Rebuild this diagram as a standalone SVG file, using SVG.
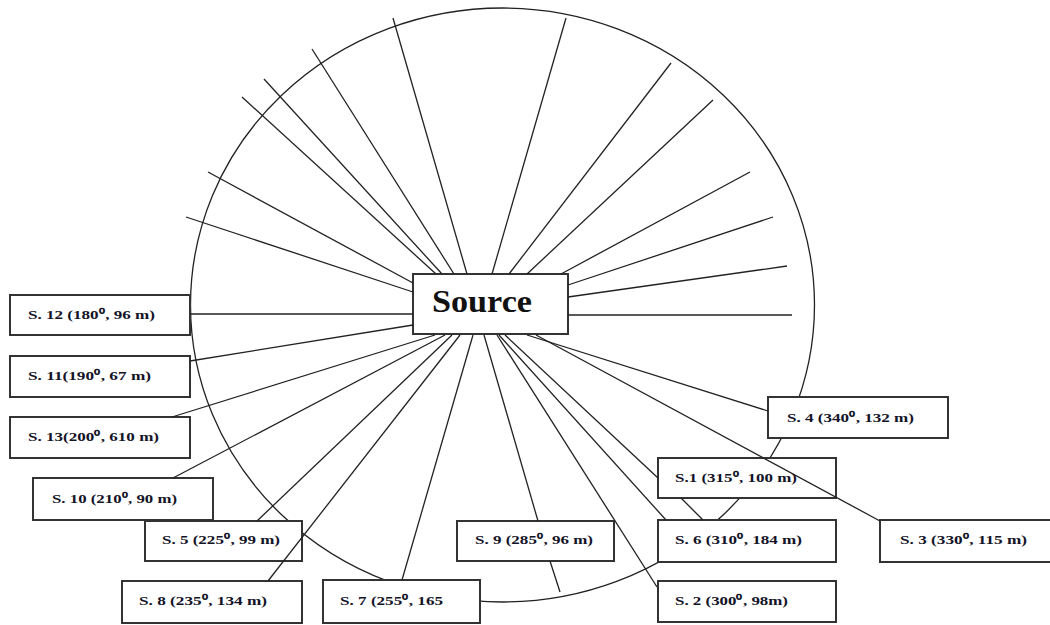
<svg xmlns="http://www.w3.org/2000/svg" width="1050" height="625" viewBox="0 0 1050 625">
<style>
.bg{fill:#fff}
.ring{fill:none;stroke:#222;stroke-width:1.3}
.box{fill:#fff;stroke:#333;stroke-width:2}
.lbl{font-family:"Liberation Serif","Times New Roman",serif;font-weight:bold;font-size:13px;fill:#141428}
.src{font-family:"Liberation Serif","Times New Roman",serif;font-weight:bold;font-size:32px;fill:#111}
#connectors line{stroke:#222;stroke-width:1.3;fill:none}
</style>
<rect class="bg" x="0" y="0" width="1050" height="625"/>
<g id="circle"><ellipse class="ring" cx="502.5" cy="305" rx="312" ry="297"/></g>
<g id="source"><rect class="box" x="413" y="274" width="155" height="60"/><text class="src" x="432" y="312" textLength="100" lengthAdjust="spacingAndGlyphs">Source</text></g>
<g id="s12"><rect class="box" x="10" y="295" width="180" height="40"/><text class="lbl" x="28" y="319" textLength="127" lengthAdjust="spacingAndGlyphs">S. 12 (180⁰, 96 m)</text></g>
<g id="s11"><rect class="box" x="10" y="356" width="180" height="41"/><text class="lbl" x="28" y="380" textLength="123" lengthAdjust="spacingAndGlyphs">S. 11(190⁰, 67 m)</text></g>
<g id="s13"><rect class="box" x="10" y="417" width="180" height="41"/><text class="lbl" x="28" y="441" textLength="131" lengthAdjust="spacingAndGlyphs">S. 13(200⁰, 610 m)</text></g>
<g id="s10"><rect class="box" x="33" y="478" width="180" height="42"/><text class="lbl" x="52" y="503" textLength="125" lengthAdjust="spacingAndGlyphs">S. 10 (210⁰, 90 m)</text></g>
<g id="s5"><rect class="box" x="145" y="521" width="157" height="40"/><text class="lbl" x="162" y="544" textLength="118" lengthAdjust="spacingAndGlyphs">S. 5 (225⁰, 99 m)</text></g>
<g id="s8"><rect class="box" x="122" y="581" width="180" height="42"/><text class="lbl" x="139" y="605" textLength="128" lengthAdjust="spacingAndGlyphs">S. 8 (235⁰, 134 m)</text></g>
<g id="s7"><rect class="box" x="323" y="580" width="157" height="43"/><text class="lbl" x="340" y="605" textLength="103" lengthAdjust="spacingAndGlyphs">S. 7 (255⁰, 165</text></g>
<g id="s9"><rect class="box" x="457" y="521" width="157" height="40"/><text class="lbl" x="475" y="544" textLength="118" lengthAdjust="spacingAndGlyphs">S. 9 (285⁰, 96 m)</text></g>
<g id="s4"><rect class="box" x="768" y="397" width="180" height="41"/><text class="lbl" x="787" y="422" textLength="127" lengthAdjust="spacingAndGlyphs">S. 4 (340⁰, 132 m)</text></g>
<g id="s1"><rect class="box" x="658" y="458" width="178" height="40"/><text class="lbl" x="675" y="482" textLength="122" lengthAdjust="spacingAndGlyphs">S.1 (315⁰, 100 m)</text></g>
<g id="s6"><rect class="box" x="658" y="520" width="178" height="42"/><text class="lbl" x="675" y="544" textLength="127" lengthAdjust="spacingAndGlyphs">S. 6 (310⁰, 184 m)</text></g>
<g id="s3"><rect class="box" x="880" y="520" width="175" height="42"/><text class="lbl" x="900" y="544" textLength="127" lengthAdjust="spacingAndGlyphs">S. 3 (330⁰, 115 m)</text></g>
<g id="s2"><rect class="box" x="658" y="581" width="178" height="41"/><text class="lbl" x="675" y="605" textLength="113" lengthAdjust="spacingAndGlyphs">S. 2 (300⁰, 98m)</text></g>
<g id="connectors">
<line x1="413" y1="292" x2="186" y2="217"/>
<line x1="413" y1="283" x2="208" y2="172"/>
<line x1="436" y1="274" x2="242" y2="97"/>
<line x1="442" y1="274" x2="264" y2="79"/>
<line x1="454" y1="274" x2="312" y2="49"/>
<line x1="467" y1="274" x2="393" y2="18"/>
<line x1="492" y1="274" x2="566" y2="18"/>
<line x1="509" y1="274" x2="671" y2="63"/>
<line x1="527" y1="274" x2="713" y2="100"/>
<line x1="561" y1="274" x2="750" y2="172"/>
<line x1="568" y1="285" x2="773" y2="217"/>
<line x1="568" y1="297" x2="787" y2="266"/>
<line x1="568" y1="315" x2="792" y2="315"/>
<line x1="413" y1="314" x2="190" y2="314"/>
<line x1="413" y1="325" x2="190" y2="361"/>
<line x1="435" y1="335" x2="172" y2="417"/>
<line x1="445" y1="335" x2="173" y2="478"/>
<line x1="452" y1="335" x2="257" y2="521"/>
<line x1="460" y1="335" x2="268" y2="581"/>
<line x1="473" y1="335" x2="402" y2="580"/>
<line x1="484" y1="335" x2="538" y2="521"/>
<line x1="550" y1="561" x2="560" y2="592"/>
<line x1="497" y1="335" x2="657" y2="587"/>
<line x1="499" y1="335" x2="666" y2="520"/>
<line x1="505" y1="335" x2="658" y2="478"/>
<line x1="681" y1="498" x2="703" y2="520"/>
<line x1="527" y1="335" x2="768" y2="411"/>
<line x1="536" y1="335" x2="880" y2="521"/>
</g>
</svg>
